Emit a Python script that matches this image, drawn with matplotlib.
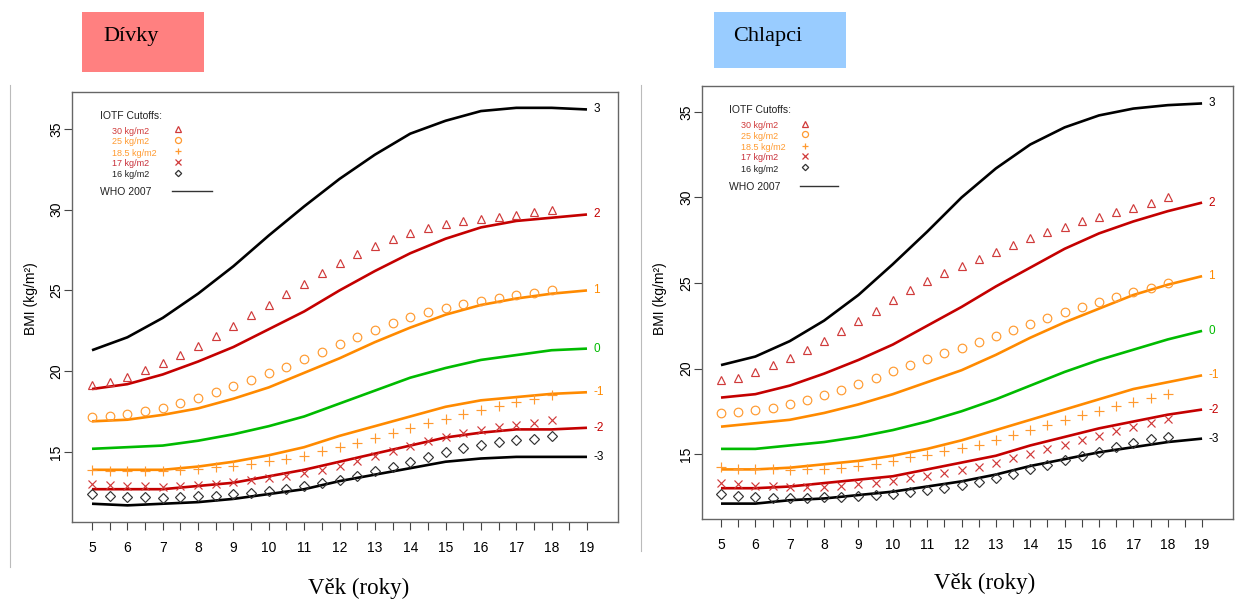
import numpy as np
import matplotlib.pyplot as plt
from matplotlib.patches import Rectangle
from matplotlib.lines import Line2D

plt.switch_backend('Agg')
plt.rcParams['font.family'] = ['Liberation Sans', 'DejaVu Sans']

W, H = 1235, 601

# WHO 2007 BMI-for-age z-score curves, yearly values 5..19
who_age = np.arange(5, 20)
z_labels = ['3', '2', '1', '0', '-1', '-2', '-3']

girls_who = {
    '3':  [21.3, 22.1, 23.3, 24.8, 26.5, 28.4, 30.2, 31.9, 33.4, 34.7, 35.5, 36.1, 36.3, 36.3, 36.2],
    '2':  [18.9, 19.2, 19.8, 20.6, 21.5, 22.6, 23.7, 25.0, 26.2, 27.3, 28.2, 28.9, 29.3, 29.5, 29.7],
    '1':  [16.9, 17.0, 17.3, 17.7, 18.3, 19.0, 19.9, 20.8, 21.8, 22.7, 23.5, 24.1, 24.5, 24.8, 25.0],
    '0':  [15.2, 15.3, 15.4, 15.7, 16.1, 16.6, 17.2, 18.0, 18.8, 19.6, 20.2, 20.7, 21.0, 21.3, 21.4],
    '-1': [13.9, 13.9, 13.9, 14.1, 14.4, 14.8, 15.3, 16.0, 16.6, 17.2, 17.8, 18.2, 18.4, 18.6, 18.7],
    '-2': [12.7, 12.7, 12.7, 12.9, 13.1, 13.5, 13.9, 14.4, 14.9, 15.4, 15.9, 16.2, 16.4, 16.4, 16.5],
    '-3': [11.8, 11.7, 11.8, 11.9, 12.1, 12.4, 12.7, 13.2, 13.6, 14.0, 14.4, 14.6, 14.7, 14.7, 14.7],
}
boys_who = {
    '3':  [20.2, 20.7, 21.6, 22.8, 24.3, 26.1, 28.0, 30.0, 31.7, 33.1, 34.1, 34.8, 35.2, 35.4, 35.5],
    '2':  [18.3, 18.5, 19.0, 19.7, 20.5, 21.4, 22.5, 23.6, 24.8, 25.9, 27.0, 27.9, 28.6, 29.2, 29.7],
    '1':  [16.6, 16.8, 17.0, 17.4, 17.9, 18.5, 19.2, 19.9, 20.8, 21.8, 22.7, 23.5, 24.3, 24.9, 25.4],
    '0':  [15.3, 15.3, 15.5, 15.7, 16.0, 16.4, 16.9, 17.5, 18.2, 19.0, 19.8, 20.5, 21.1, 21.7, 22.2],
    '-1': [14.1, 14.1, 14.2, 14.4, 14.6, 14.9, 15.3, 15.8, 16.4, 17.0, 17.6, 18.2, 18.8, 19.2, 19.6],
    '-2': [13.0, 13.0, 13.1, 13.3, 13.5, 13.7, 14.1, 14.5, 14.9, 15.5, 16.0, 16.5, 16.9, 17.3, 17.6],
    '-3': [12.1, 12.1, 12.3, 12.4, 12.6, 12.8, 13.1, 13.4, 13.8, 14.3, 14.7, 15.1, 15.4, 15.7, 15.9],
}

# IOTF cutoffs, half-yearly 5..18
iotf_age = np.arange(5, 18.01, 0.5)
girls_iotf = {
    '30': [19.17, 19.34, 19.65, 20.08, 20.51, 21.01, 21.57, 22.18, 22.81, 23.46, 24.11, 24.77, 25.42, 26.05,
           26.67, 27.24, 27.76, 28.20, 28.57, 28.87, 29.11, 29.29, 29.43, 29.56, 29.69, 29.84, 30.00],
    '25': [17.15, 17.20, 17.34, 17.53, 17.75, 18.03, 18.35, 18.69, 19.07, 19.45, 19.86, 20.29, 20.74, 21.20,
           21.68, 22.14, 22.58, 22.98, 23.34, 23.66, 23.94, 24.17, 24.37, 24.54, 24.70, 24.85, 25.00],
    '18.5': [13.89, 13.85, 13.82, 13.82, 13.85, 13.89, 13.95, 14.05, 14.15, 14.28, 14.42, 14.59, 14.77, 15.07,
             15.32, 15.54, 15.85, 16.18, 16.49, 16.77, 17.06, 17.33, 17.60, 17.85, 18.07, 18.26, 18.50],
    '17': [13.00, 12.94, 12.90, 12.88, 12.86, 12.90, 12.96, 13.04, 13.14, 13.25, 13.37, 13.51, 13.70, 13.91,
           14.15, 14.46, 14.77, 15.08, 15.39, 15.68, 15.95, 16.18, 16.36, 16.55, 16.67, 16.77, 17.00],
    '16': [12.40, 12.30, 12.22, 12.22, 12.17, 12.22, 12.26, 12.30, 12.38, 12.46, 12.59, 12.71, 12.88, 13.06,
           13.27, 13.53, 13.84, 14.09, 14.40, 14.67, 14.98, 15.23, 15.43, 15.64, 15.76, 15.83, 16.00],
}
boys_iotf = {
    '30': [19.30, 19.47, 19.78, 20.23, 20.63, 21.09, 21.60, 22.17, 22.77, 23.39, 24.00, 24.57, 25.10, 25.58,
           26.02, 26.43, 26.84, 27.25, 27.63, 27.98, 28.30, 28.60, 28.88, 29.14, 29.41, 29.70, 30.00],
    '25': [17.42, 17.45, 17.55, 17.71, 17.92, 18.16, 18.44, 18.76, 19.10, 19.46, 19.84, 20.20, 20.55, 20.89,
           21.22, 21.56, 21.91, 22.27, 22.62, 22.96, 23.29, 23.60, 23.90, 24.19, 24.46, 24.73, 25.00],
    '18.5': [14.22, 14.12, 14.10, 14.10, 14.08, 14.10, 14.14, 14.20, 14.32, 14.43, 14.61, 14.81, 14.94, 15.18,
             15.35, 15.53, 15.84, 16.11, 16.40, 16.70, 16.99, 17.28, 17.53, 17.81, 18.06, 18.27, 18.49],
    '17': [13.28, 13.23, 13.15, 13.11, 13.07, 13.07, 13.09, 13.13, 13.23, 13.32, 13.44, 13.58, 13.73, 13.89,
           14.06, 14.26, 14.47, 14.75, 14.98, 15.27, 15.53, 15.82, 16.07, 16.36, 16.60, 16.83, 17.05],
    '16': [12.64, 12.56, 12.50, 12.45, 12.43, 12.43, 12.47, 12.49, 12.54, 12.60, 12.66, 12.76, 12.89, 13.03,
           13.19, 13.38, 13.58, 13.81, 14.10, 14.36, 14.65, 14.88, 15.14, 15.39, 15.66, 15.86, 16.01],
}

cutoff_names = ['30', '25', '18.5', '17', '16']
cutoff_labels = ['30 kg/m2', '25 kg/m2', '18.5 kg/m2', '17 kg/m2', '16 kg/m2']

line_colors = {'3': '#000000', '2': '#C40000', '1': '#FF8A00', '0': '#00BB00',
               '-1': '#FF8A00', '-2': '#C40000', '-3': '#000000'}
mk_style = {
    '30':   dict(marker='^', color='#D03A3A', fill='none'),
    '25':   dict(marker='o', color='#FF9A30', fill='none'),
    '18.5': dict(marker='+', color='#FF9A30', fill='full'),
    '17':   dict(marker='x', color='#D03A3A', fill='full'),
    '16':   dict(marker='D', color='#333333', fill='none'),
}
mk_size = {'30': 5.5, '25': 6.2, '18.5': 7, '17': 6.2, '16': 4.6}
label_colors = {'30': '#D03A3A', '25': '#FF9A30', '18.5': '#FF9A30', '17': '#C8303A', '16': '#222222'}


def draw_panel(rect, who, iotf, xlim, ylim, label_coords):
    ax = fig.add_axes(rect)
    for z in z_labels:
        ax.plot(who_age, who[z], color=line_colors[z], lw=1.9, solid_capstyle='butt')
        ax.text(19.18, who[z][-1], z, color=line_colors[z], fontsize=8.5, va='center', ha='left')
    for c in cutoff_names:
        s = mk_style[c]
        ax.plot(iotf_age, iotf[c], ls='none', marker=s['marker'], ms=mk_size[c],
                mec=s['color'], mfc='none' if s['fill'] == 'none' else s['color'], mew=0.85)
    ax.set_xlim(*xlim)
    ax.set_ylim(*ylim)
    ticks = np.arange(5, 19.01, 0.5)
    ax.set_xticks(ticks)
    ax.set_xticklabels([str(int(v)) if v == int(v) else '' for v in ticks])
    ax.set_yticks([15, 20, 25, 30, 35])
    ax.tick_params(axis='x', length=5.5, width=0.8, color='#444444', labelsize=10, pad=8)
    ax.tick_params(axis='y', length=5.5, width=0.8, color='#444444', labelsize=10, pad=1)
    for lab in ax.get_yticklabels():
        lab.set_rotation(90)
        lab.set_va('center')
    for sp in ax.spines.values():
        sp.set_color('#666666')
        sp.set_linewidth(1.0)
    ax.set_ylabel('BMI (kg/m²)', fontsize=10)
    ax.yaxis.label.set_va('center')
    ax.yaxis.set_label_coords(*label_coords)

    # legend drawn in axes fraction
    ax.text(0.051, 0.945, 'IOTF Cutoffs:', transform=ax.transAxes, fontsize=7.5, va='center', color='#222222')
    ys = [0.909, 0.884, 0.858, 0.834, 0.808]
    for c, lab, y in zip(cutoff_names, cutoff_labels, ys):
        ax.text(0.074, y, lab, transform=ax.transAxes, fontsize=6.5, va='center', color=label_colors[c])
        s = mk_style[c]
        ax.plot([0.194], [y + 0.004], transform=ax.transAxes, marker=s['marker'], ms=mk_size[c] * 0.7,
                mec=s['color'], mfc='none' if s['fill'] == 'none' else s['color'], mew=0.9, ls='none',
                clip_on=False)
    ax.text(0.051, 0.767, 'WHO 2007', transform=ax.transAxes, fontsize=7.5, va='center', color='#222222')
    ax.plot([0.184, 0.256], [0.770, 0.770], transform=ax.transAxes, color='#333333', lw=1.0)
    return ax


fig = plt.figure(figsize=(W / 100, H / 100), dpi=100)

# faint frames of the two embedded pictures
fig.add_artist(Line2D([10 / W, 10 / W], [1 - 85 / H, 1 - 567 / H], color='#BBBBBB', lw=0.8))
fig.add_artist(Line2D([641 / W, 641 / W], [1 - 85 / H, 1 - 551 / H], color='#BBBBBB', lw=0.8))

draw_panel([72 / W, 1 - 522 / H, 546 / W, 430 / H], girls_who, girls_iotf,
           (4.434, 19.877), (10.67, 37.28), (-0.075, 0.52))
draw_panel([702 / W, 1 - 519 / H, 531 / W, 433 / H], boys_who, boys_iotf,
           (4.447, 19.9), (11.2, 36.52), (-0.079, 0.51))

# header boxes
fig.add_artist(Rectangle((82 / W, 1 - 72 / H), 122 / W, 60 / H, transform=fig.transFigure,
                         facecolor='#FF8080', edgecolor='none'))
fig.text(103 / W, 1 - 37 / H, 'Dívky', fontsize=16, family='Liberation Serif', va='center', ha='left')
fig.add_artist(Rectangle((714 / W, 1 - 68 / H), 132 / W, 56 / H, transform=fig.transFigure,
                         facecolor='#99CCFF', edgecolor='none'))
fig.text(733 / W, 1 - 37 / H, 'Chlapci', fontsize=16, family='Liberation Serif', va='center', ha='left')

# x labels
fig.text(359 / W, 1 - 588 / H, 'Věk (roky)', fontsize=16.5, family='Liberation Serif', va='center', ha='center')
fig.text(985 / W, 1 - 583 / H, 'Věk (roky)', fontsize=16.5, family='Liberation Serif', va='center', ha='center')

fig.savefig('out.png', dpi=100)
